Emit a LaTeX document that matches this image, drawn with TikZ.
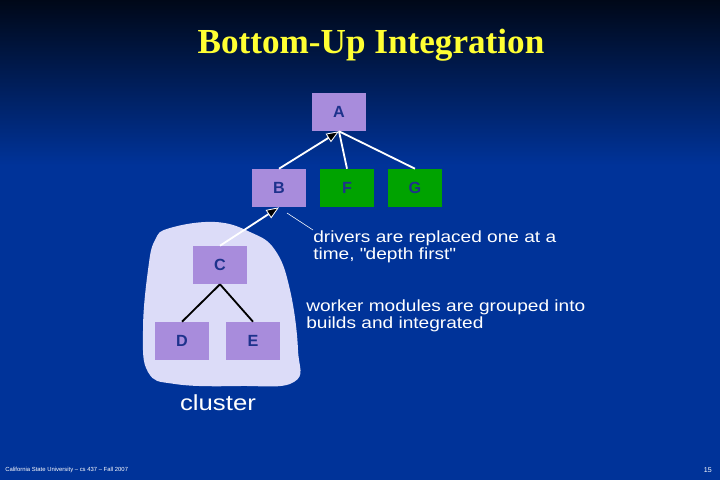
\documentclass[tikz,border=0pt]{standalone}
\usepackage{fontspec}
\setmainfont{Liberation Serif}
\setsansfont{Liberation Sans}
\newfontfamily\widesans[FakeStretch=1.18]{Liberation Sans}
\usetikzlibrary{arrows.meta}
\definecolor{bgblue}{RGB}{0,51,153}
\definecolor{bgtop}{RGB}{0,8,24}
\definecolor{lav}{RGB}{168,140,220}
\definecolor{grn}{RGB}{0,163,0}
\definecolor{boxtext}{RGB}{30,50,140}
\definecolor{blob}{RGB}{220,220,248}
\definecolor{ttl}{RGB}{255,255,51}
\begin{document}
\begin{tikzpicture}[x=0.025cm,y=-0.025cm,
 modbox/.style={minimum width=1.35cm,minimum height=0.95cm,inner sep=0pt,
   text=boxtext,font=\sffamily\bfseries\fontsize{11.5}{13}\selectfont},
 driver/.style={modbox,fill=lav},
 stub/.style={modbox,fill=grn},
 link/.style={white,line width=1.3pt},
 uparrow/.style={link,-{Triangle[fill=black,length=9pt,width=7pt,line width=0.6pt]}},
 note/.style={white,align=left,inner sep=0pt,anchor=north west,
   font=\widesans\fontsize{11.5}{12.2}\selectfont}]
 \useasboundingbox (0,0) rectangle (720,480);
 % background
 \fill[bgblue] (0,0) rectangle (720,480);
 \shade[top color=bgtop,bottom color=bgblue] (0,0) rectangle (720,165);
 % title
 \node[text=ttl,font=\bfseries\fontsize{25}{28}\selectfont] (title) at (371,45) {Bottom-Up Integration};
 % cluster
 \fill[blob] plot[smooth cycle,tension=0.7] coordinates {(170,228) (215,222) (250,232) (275,250) (290,290) (298,350) (294,382) (240,386) (175,384) (148,372) (143,330) (148,270) (155,240)};
 \node[white,font=\widesans\fontsize{15.5}{18}\selectfont] (cl) at (218,403) {cluster};
 % modules
 \node[driver] (A) at (339,112) {A};
 \node[driver] (B) at (279,188) {B};
 \node[stub] (F) at (347,188) {F};
 \node[stub] (G) at (415,188) {G};
 \node[driver] (C) at (220,265) {C};
 \node[driver] (D) at (182,341) {D};
 \node[driver] (E) at (253,341) {E};
 % connections
 \draw[uparrow] (B.north) -- (A.south);
 \draw[link] (F.north) -- (A.south);
 \draw[link] (G.north) -- (A.south);
 \draw[uparrow] (C.north) -- (B.south);
 \draw[black,line width=1.3pt] (C.south) -- (D.north);
 \draw[black,line width=1.3pt] (C.south) -- (E.north);
 % notes
 \node[note] (drv) at (313,230) {drivers are replaced one at a\\time, \textquotedbl depth first\textquotedbl};
 \coordinate (cb) at (287,213);
 \draw[white,thin] (drv.north west) -- (cb);
 \node[note] (wrk) at (306,299) {worker modules are grouped into\\builds and integrated};
 % footer
 \node[white,anchor=west,inner sep=0pt,font=\sffamily\fontsize{4.2}{5}\selectfont] (foot) at (5,470) {California State University -- cs 437 -- Fall 2007};
 \node[white,anchor=east,inner sep=0pt,font=\sffamily\fontsize{5}{6}\selectfont] (pg) at (712,470) {15};
\end{tikzpicture}
\end{document}
